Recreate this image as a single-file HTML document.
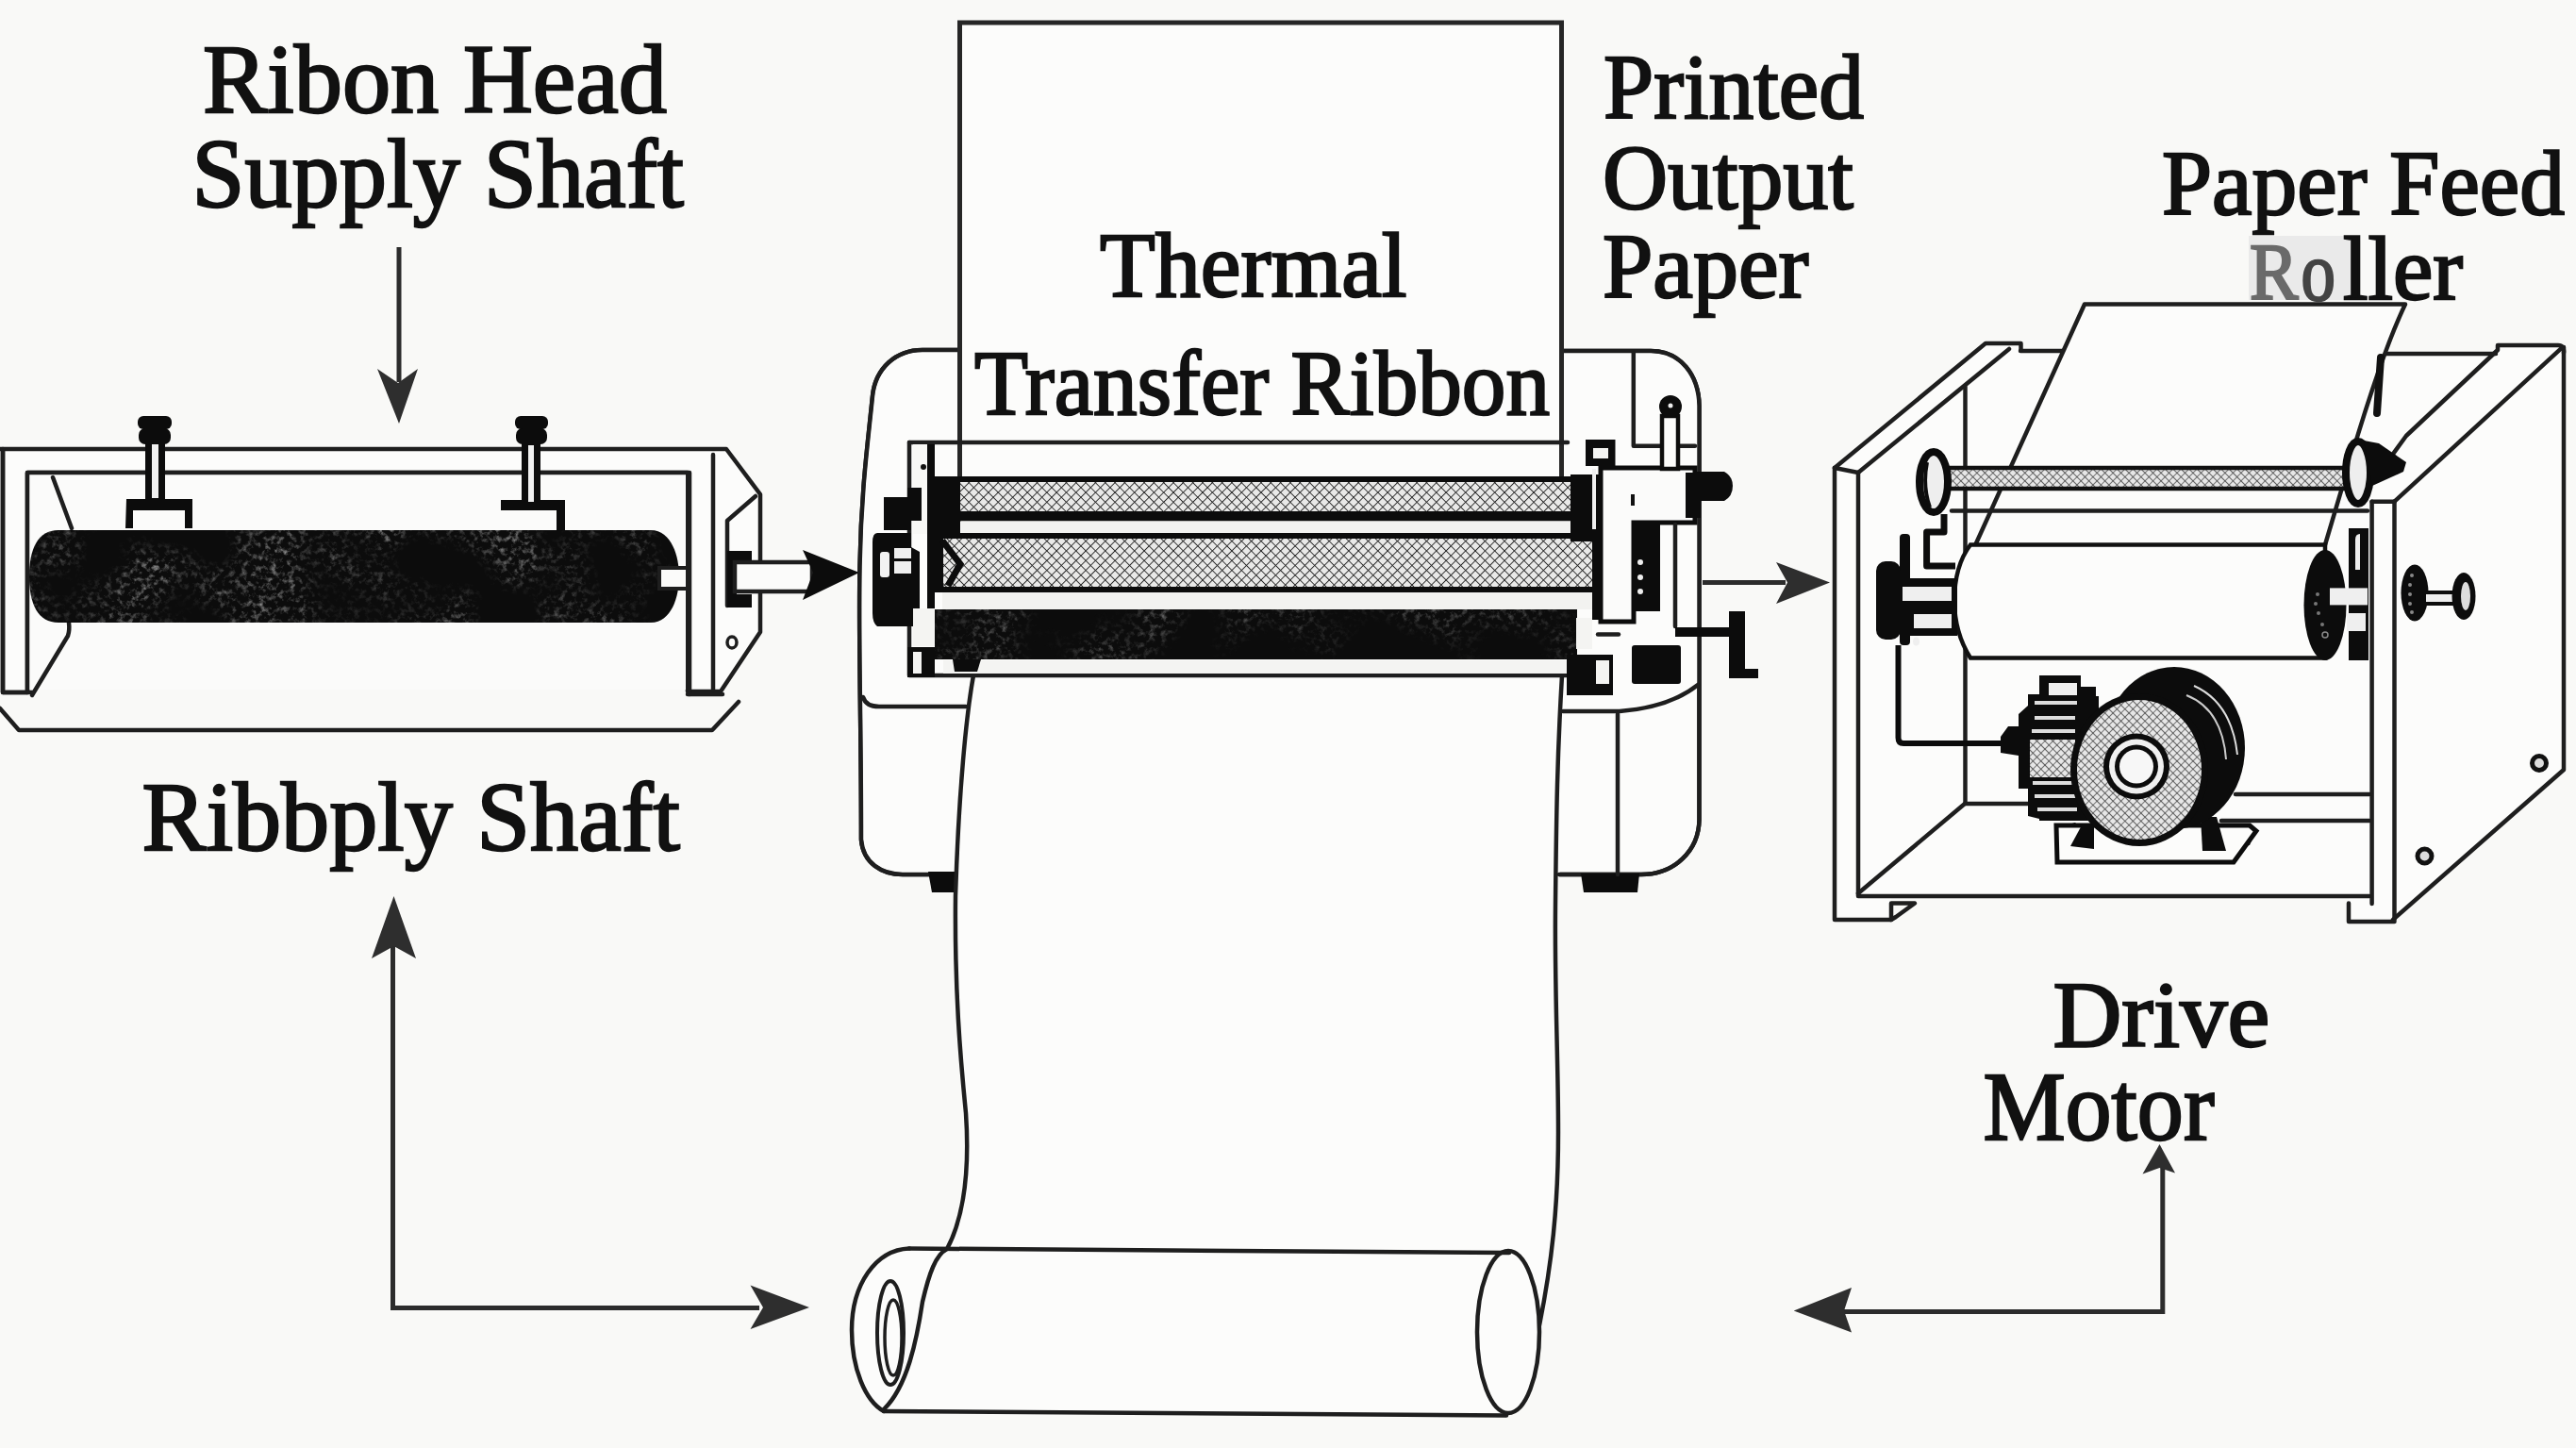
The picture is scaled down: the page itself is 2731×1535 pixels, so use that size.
<!DOCTYPE html>
<html><head><meta charset="utf-8"><title>Thermal Transfer Printer Diagram</title>
<style>
html,body{margin:0;padding:0;background:#f9f9f7;}
body{width:2731px;height:1535px;overflow:hidden;}
svg{display:block;}
.t{font-family:"Liberation Serif",serif;fill:#111;stroke:#111;stroke-width:2.4;stroke-linejoin:miter;stroke-miterlimit:3;}
.s{fill:none;stroke:#1e1e1e;stroke-width:4.5;stroke-linejoin:round;stroke-linecap:round;}
.sw{fill:#fcfcfb;stroke:#1e1e1e;stroke-width:4.5;stroke-linejoin:round;}
.k{fill:#0c0c0c;}
.ar{fill:none;stroke:#2c2c2c;stroke-width:5;}
.ah{fill:#2e2e2e;}
</style></head><body>
<svg width="2731" height="1535" viewBox="0 0 2731 1535">
<defs>
<pattern id="hx" width="7.3" height="7.3" patternUnits="userSpaceOnUse" patternTransform="rotate(45)">
<rect width="7.3" height="7.3" fill="#e9e9e8"/>
<path d="M0 0H7.3M0 0V7.3" stroke="#2a2a2a" stroke-width="1.9"/>
</pattern>
<pattern id="hx2" width="6" height="6" patternUnits="userSpaceOnUse" patternTransform="rotate(45)">
<rect width="6" height="6" fill="#e6e6e6"/>
<path d="M0 0H6M0 0V6" stroke="#333" stroke-width="1.3"/>
</pattern>
<filter id="speck" x="0" y="0" width="1" height="1">
<feTurbulence type="fractalNoise" baseFrequency="0.16" numOctaves="4" seed="7" result="t"/>
<feColorMatrix in="t" type="matrix" values="0 0 0 0 0.27  0 0 0 0 0.27  0 0 0 0 0.27  2.6 0 0 0 -1.25" result="m"/>
<feTurbulence type="fractalNoise" baseFrequency="0.012" numOctaves="2" seed="11" result="low"/>
<feColorMatrix in="low" type="matrix" values="0 0 0 0 0  0 0 0 0 0  0 0 0 0 0  3.2 0 0 0 -1.25" result="lowA"/>
<feComposite in="m" in2="lowA" operator="in" result="mm"/>
<feComposite in="mm" in2="SourceAlpha" operator="in"/>
</filter>
<radialGradient id="bg1" cx="0.5" cy="0.5" r="0.5"><stop offset="0" stop-color="#fdfdfc"/><stop offset="1" stop-color="#fdfdfc" stop-opacity="0"/></radialGradient>
</defs>

<!-- background -->
<rect width="2731" height="1535" fill="#f9f9f7"/>

<!-- ============ ARROWS ============ -->
<g id="arrows">
<path class="ar" d="M423 262V405"/>
<path class="ah" d="M423 449L400 391L422 406L443 391Z"/>
<path class="ar" d="M416.5 1000V1386.5H805"/>
<path class="ah" d="M417.5 950L394 1016L417.5 1003L441 1016Z"/>
<path class="ah" d="M858 1386L795.5 1362.5L809 1386L795.5 1409Z"/>
<path class="ar" d="M1805 617.5H1893"/>
<path class="ah" d="M1940 617.5L1883 596L1895 617.5L1883 640Z"/>
<path class="ar" d="M2292.8 1238V1390.6H1950"/>
<path class="ah" d="M2289.5 1213L2271.5 1244.5L2289.5 1238L2306 1243.5Z"/>
<path class="ah" d="M1901.7 1389.6L1963 1365L1955 1389.6L1963 1412.5Z"/>
</g>

<!-- ============ LEFT: ribbon supply shaft ============ -->
<g id="left">
<!-- base tray -->
<path class="s" d="M0 751L20 774H755L783 744"/>
<!-- frame outer contour -->
<path class="sw" d="M-5 476H770L806 524V670L764 733H729V501H29V734H3V476"/>
<!-- fill the inside white (between posts) -->
<path d="M31 503H727V731H31Z" fill="#fbfbfa"/>
<path class="s" d="M29 734V501H731V736"/>
<path class="s" d="M756 482V731"/>
<path class="s" d="M3 476V734H34"/>
<path class="s" d="M729 736H766"/>
<!-- side plate inner parallelogram -->
<path class="s" d="M771 642V552L801 526"/>
<!-- left diagonal supports -->
<path class="s" d="M56 506L76 560"/>
<path class="s" d="M73 660Q74 668 72 674L34 737"/>
<!-- roller -->
<path class="k" d="M62 562H690C712 562 720 590 720 611C720 632 712 660 690 660H62C40 660 31 640 31 611C31 582 40 562 62 562Z"/>
<path d="M62 562H690C712 562 720 590 720 611C720 632 712 660 690 660H62C40 660 31 640 31 611C31 582 40 562 62 562Z" fill="#000" filter="url(#speck)"/>
<!-- stub shaft -->
<rect x="699" y="602" width="30" height="22" fill="#fbfbfa" stroke="#1e1e1e" stroke-width="4"/>
<!-- arrow shaft bracket -->
<path class="k" d="M771 584H797V598H781V630H797V644H771Z"/>
<rect x="779" y="596" width="82" height="31" fill="#fbfbfa" stroke="#1e1e1e" stroke-width="4.5"/>
<path class="k" d="M911 607L851 583L862 607L851 636Z"/>
<!-- hole -->
<ellipse cx="776" cy="681" rx="5" ry="6" fill="none" stroke="#1e1e1e" stroke-width="3.5"/>
<!-- left screw -->
<path class="k" d="M134 529H204V560H196V541H141V560H133Z"/>
<rect x="154" y="468" width="21" height="64" fill="#0c0c0c"/>
<rect x="161" y="470" width="7" height="58" fill="#f0f0f0"/>
<rect x="146" y="441" width="36" height="14" rx="6" fill="#0c0c0c"/>
<rect x="147" y="454" width="34" height="17" rx="7" fill="#0c0c0c"/>
<!-- right screw -->
<path class="k" d="M531 530H599V562H590V541H541V541H531Z"/>
<rect x="553" y="470" width="20" height="66" fill="#0c0c0c"/>
<rect x="560" y="472" width="6" height="60" fill="#f0f0f0"/>
<rect x="546" y="441" width="35" height="14" rx="6" fill="#0c0c0c"/>
<rect x="547" y="454" width="33" height="17" rx="7" fill="#0c0c0c"/>
</g>

<!-- ============ CENTER: printer ============ -->
<g id="printer">
<!-- printer body -->
<path class="sw" d="M1016 371H978C950 371 928 390 925 420C920 470 913 520 911.5 600C910 680 913 760 913 890C915 915 935 927 957 927H1014
 M1655 372H1750C1782 372 1801 398 1801.5 430V869C1801 902 1775 927 1740 927H1653"/>
<path d="M1016 373H978C952 373 930 392 927 420C922 470 915 520 913.5 600C912 680 915 760 915 890C917 913 936 925 957 925H1654V754H1718L1800 726V430C1799 399 1781 374 1750 374H1016Z" fill="#fcfcfb"/>
<path class="s" d="M1016 371H978C950 371 928 390 925 420C920 470 913 520 911.5 600C910 680 913 760 913 890C915 915 935 927 957 927H1014"/>
<path class="s" d="M1655 372H1750C1782 372 1801 398 1801.5 430V869C1801 902 1775 927 1740 927H1653"/>
<!-- feet -->
<path class="k" d="M984 924H1013V946H988Z"/>
<path class="k" d="M1676 926H1738L1736 946H1679Z"/>
<!-- inner lines -->
<path class="s" d="M915 739Q918 749 932 749H1024"/>
<path class="s" d="M1657 754H1717Q1770 750 1800 726"/>
<path class="s" d="M1715 757V927"/>
<path class="s" d="M1731.8 374V472.8H1797"/>
<!-- paper strip from printer to roll -->
<path d="M1035 701C1024 750 1016 850 1013 950C1012 1050 1018 1120 1024 1180C1028 1240 1022 1290 1004 1324L1600 1330L1632 1405C1645 1340 1652 1280 1652 1200C1652 1120 1648 1050 1649 960C1650 860 1651 800 1656 716Z" fill="#fcfcfb"/>
<path class="s" d="M1035 701C1024 750 1016 850 1013 950C1012 1050 1018 1120 1024 1180C1028 1240 1022 1290 1004 1324"/>
<path class="s" d="M1656 716C1651 800 1650 860 1649 960C1648 1050 1652 1120 1652 1200C1652 1280 1645 1340 1632 1405"/>
<!-- top paper sheet -->
<rect x="1017.5" y="24" width="638" height="490" fill="#fcfcfb" stroke="#262626" stroke-width="5"/>
<!-- mechanism frame -->
<path class="s" d="M964 469H1662"/>
<path class="s" d="M964 469V716H1662"/>
<!-- upper roller -->
<rect x="1018" y="510" width="650" height="33" fill="url(#hx)"/>
<path d="M991 505H1670V511H1018V542H1670V552.5H991Z" fill="#0c0c0c"/>
<rect x="991" y="505" width="27" height="62" fill="#0c0c0c"/>
<rect x="1019" y="552.5" width="650" height="12.5" fill="#f2f2f0"/>
<rect x="991" y="565" width="680" height="6" fill="#0c0c0c"/>
<!-- middle roller -->
<rect x="1000" y="571" width="690" height="51" fill="url(#hx)"/>
<path d="M991 569H1000V625H991Z" fill="#0c0c0c"/><path d="M999 573L1018 598L1005 621" fill="none" stroke="#0c0c0c" stroke-width="7"/>
<rect x="991" y="622" width="699" height="6" fill="#0c0c0c"/>
<rect x="999" y="628" width="690" height="18" fill="#f2f2f0"/>
<!-- bottom black roller -->
<rect x="991" y="646" width="681" height="53" fill="#0c0c0c"/>
<rect x="991" y="646" width="681" height="53" fill="#000" filter="url(#speck)" opacity="0.6"/>
<rect x="1000" y="700" width="662" height="14" fill="#f4f4f2"/>
<!-- left frame strips -->
<rect x="983" y="471" width="8" height="175" fill="#0c0c0c"/>
<rect x="968" y="471" width="15" height="95" fill="#f8f8f6"/>
<circle cx="979" cy="495" r="3" fill="#111"/>
<!-- left mechanism -->
<path class="k" d="M937 527H962V517H977V552H966V562H937Z"/>
<path class="k" d="M930 565H966V580L975 585V645H991V664H930Q925 660 925 650V575Q925 565 930 565Z"/>
<rect x="933" y="585" width="10" height="27" rx="3" fill="#f2f2f2"/>
<rect x="948" y="581" width="18" height="11" fill="#efefef"/>
<rect x="948" y="595" width="18" height="13" fill="#efefef"/>
<rect x="968" y="645" width="23" height="40" fill="#f4f4f2"/>
<rect x="962" y="686" width="29" height="32" fill="#0c0c0c"/>
<rect x="968" y="691" width="9" height="23" fill="#f4f4f2"/>
<path class="k" d="M1010 699H1040L1036 712H1012Z"/>
<!-- right mechanism -->
<path class="k" d="M1681 466H1712.5V494H1681Z"/>
<rect x="1689" y="475" width="16" height="11" fill="#f4f4f2"/>
<path class="k" d="M1665 503H1698V574H1665Z"/>
<rect x="1688" y="497" width="4" height="64" fill="#f0f0f0"/>
<path class="k" d="M1688 572H1699V657H1688Z"/>
<rect x="1671" y="655" width="17" height="33" fill="#f4f4f2"/>
<path class="k" d="M1661 694H1710V737H1661Z"/>
<rect x="1692" y="700" width="14" height="25" fill="#f4f4f2"/>
<path d="M1697 496H1797V554H1732V659H1697Z" fill="#fbfbfa" stroke="#0c0c0c" stroke-width="5"/>
<rect x="1729" y="524" width="4" height="12" fill="#111"/>
<path class="k" d="M1732 552H1760V648H1732Z"/>
<circle cx="1739" cy="596" r="3" fill="#eee"/><circle cx="1739" cy="612" r="3" fill="#eee"/><circle cx="1739" cy="627" r="3" fill="#eee"/>
<path class="k" d="M1787 501H1803V549H1787Z"/>
<path class="k" d="M1797 500H1828Q1837 505 1837 515Q1837 526 1828 531H1797Z"/>
<!-- lever knob -->
<rect x="1762" y="441" width="17" height="56" fill="#fbfbfa" stroke="#0c0c0c" stroke-width="4.5"/>
<circle cx="1771" cy="431" r="12" fill="#0c0c0c"/>
<circle cx="1771" cy="430" r="2.5" fill="#eee"/>
<path class="s" d="M1776 556V664"/>
<!-- T handle -->
<path class="k" d="M1776 665H1833V648H1850V709H1864V719H1833V675H1776Z"/>
<rect x="1730" y="684" width="52" height="41" rx="3" fill="#0c0c0c"/>
<path class="s" d="M1694 672.5H1716"/>
<!-- roll -->
<path d="M964 1323.5L1600 1328C1620 1330 1632 1370 1631 1412C1630 1460 1615 1500 1597 1500.5L937 1496C915 1480 903 1445 903 1410C903 1365 930 1323.5 964 1323.5Z" fill="#fcfcfb"/>
<path class="s" d="M964 1323.5L1600 1328"/>
<path class="s" d="M937 1496L1597 1500.5"/>
<path class="s" d="M964 1323.5C928 1325 903 1362 903 1410C903 1450 917 1485 937 1496"/>
<path class="s" d="M1004 1324C992 1330 985 1350 978 1380C972 1420 962 1470 937 1494"/>
<ellipse cx="1599" cy="1412" rx="33" ry="86" fill="none" stroke="#1e1e1e" stroke-width="4.5"/>
<ellipse cx="944" cy="1413" rx="14" ry="55" fill="none" stroke="#1e1e1e" stroke-width="4"/>
<ellipse cx="947" cy="1418" rx="9" ry="40" fill="none" stroke="#1e1e1e" stroke-width="3.5"/>
</g>

<!-- ============ RIGHT: paper feed box ============ -->
<g id="box">
<!-- interior background fills -->
<path d="M1945 496L2105 364H2142V372H2648V366H2718V816L2537 975H2490V952H2005V975H1945Z" fill="#fcfcfb"/>
<!-- right side face -->
<path class="s" d="M2538.5 531.7L2715 369.7"/>
<path class="s" d="M2718 368V816L2537 975"/>
<!-- right top slab -->
<path class="s" d="M2514.6 512L2551 462L2648 371V366H2712Q2719 366 2718 374"/>
<path class="s" d="M2514.6 531.7H2538.5"/>
<!-- back panel top line -->
<path class="s" d="M2142 372H2190M2529 375H2646"/>
<!-- left panel -->
<path class="s" d="M1945 496V975H2005"/>
<path class="s" d="M1970 501V950H2512"/>
<path class="s" d="M1945 496L1970 501"/>
<path class="s" d="M1945 496L2105 364H2142.5V371"/>
<path class="s" d="M1970 501L2130 370"/>
<path class="s" d="M2005 975L2010 972L2030 957.5H2005V975"/>
<!-- back left vertical and floor -->
<path class="s" d="M2083.5 410V852"/>
<path class="s" d="M1970 947L2083 852H2160"/>
<path class="s" d="M2370 842H2512M2355 870H2512"/>
<!-- right panel front -->
<path class="s" d="M2514.6 531.7V958M2538.5 531.7V975"/>
<path class="s" d="M2490 957.5V977H2538.5"/>
<!-- holes -->
<circle cx="2692" cy="809" r="7.5" fill="#ddd" stroke="#111" stroke-width="5"/>
<circle cx="2570.5" cy="907.5" r="7.5" fill="#ddd" stroke="#111" stroke-width="5"/>
<!-- side knob -->
<ellipse cx="2560" cy="628.5" rx="14.5" ry="30" fill="#0c0c0c"/>
<rect x="2570" y="628" width="32" height="12" fill="#eee" stroke="#0c0c0c" stroke-width="4"/>
<ellipse cx="2612" cy="632" rx="12.5" ry="25" fill="#0c0c0c"/>
<ellipse cx="2614" cy="632" rx="5" ry="15" fill="#ddd"/>
<g fill="#888"><circle cx="2557" cy="610" r="2"/><circle cx="2555" cy="620" r="2"/><circle cx="2555" cy="630" r="2"/><circle cx="2555" cy="640" r="2"/><circle cx="2557" cy="649" r="2"/></g>
<!-- paper in box -->
<path d="M2210 322.5H2550C2530 360 2510 420 2490 490L2465 577.5H2095Z" fill="#fcfcfb"/>
<path class="s" d="M2095 576L2210 322.5H2550C2532 360 2512 420 2494 480L2465 577.5"/>
<path d="M2524 379L2520 438" stroke="#111" stroke-width="8" stroke-linecap="round"/>
<!-- under-rod bar and roller -->
<path class="s" d="M2069 541.5H2510"/>
<path d="M2089 577.5H2465V697.5H2089C2078 680 2072 660 2072 637C2072 612 2078 592 2089 577.5Z" fill="#fcfcfb" stroke="#111" stroke-width="4.5"/>
<!-- rod -->
<rect x="2055" y="496" width="436" height="22" fill="url(#hx2)" stroke="#111" stroke-width="4.5"/>
<!-- rod discs -->
<ellipse cx="2050" cy="511" rx="15" ry="32" fill="#eee" stroke="#0c0c0c" stroke-width="8"/>
<path d="M2043 490Q2038 515 2046 538" stroke="#0c0c0c" stroke-width="4" fill="none"/>
<ellipse cx="2500" cy="501" rx="13" ry="33" fill="#eee" stroke="#0c0c0c" stroke-width="8"/>
<path class="k" d="M2506 467L2522 470L2551 490L2548 500L2515 515Z"/>
<!-- left s-hook -->
<path d="M2061 545V564H2042.6V600H2073" fill="none" stroke="#0c0c0c" stroke-width="7" stroke-linejoin="round"/>
<!-- left axle bracket -->
<rect x="2014" y="566" width="11" height="118" rx="4" fill="#0c0c0c"/>
<rect x="1989" y="595" width="26" height="83" rx="10" fill="#0c0c0c"/>
<rect x="2014" y="613" width="61" height="61" fill="#0c0c0c"/>
<rect x="2017" y="622" width="52" height="15" fill="#efefef"/>
<rect x="2029" y="651" width="40" height="15" fill="#efefef"/>
<ellipse cx="2031.5" cy="680" rx="3.5" ry="4.5" fill="#efefef"/>
<!-- right gear & bracket -->
<path class="k" d="M2490 560H2511V700H2490Z"/>
<path d="M2497 572Q2497 566 2502 566V604H2497Z" fill="#eee"/>
<ellipse cx="2465" cy="641.4" rx="22.5" ry="58.5" fill="#0c0c0c"/>
<g fill="#777"><circle cx="2457" cy="630" r="2"/><circle cx="2455" cy="640" r="2"/><circle cx="2458" cy="650" r="2"/><circle cx="2462" cy="662" r="2"/><circle cx="2465" cy="673" r="3" fill="none" stroke="#888" stroke-width="1.5"/></g>
<rect x="2470" y="623.4" width="40" height="18" fill="#efefef"/>
<rect x="2488" y="650" width="20" height="19" fill="#efefef"/>
<!-- wire -->
<path d="M2012.5 684V782Q2012.5 788 2018 788H2123" fill="none" stroke="#0c0c0c" stroke-width="6"/>
<!-- motor base -->
<path d="M2183 877L2200 872L2208 880V905L2270 906L2385 896L2391 881L2385 880L2372 873L2368 880L2340 878L2340 902L2266 904L2181 903Z" fill="#0c0c0c"/>
<path d="M2180 875H2385L2392 881L2368 914H2181Z" fill="#fcfcfb" stroke="#0c0c0c" stroke-width="5"/>
<path class="k" d="M2195 897L2208 873H2220V900Z"/>
<path class="k" d="M2333 866H2350L2360 902H2335Z"/>
<!-- motor back disc -->
<ellipse cx="2305" cy="793" rx="75" ry="86" fill="#0c0c0c"/>
<path d="M2326 727Q2366 745 2372 800" stroke="#ddd" stroke-width="2" fill="none"/>
<path d="M2318 737Q2356 752 2360 805" stroke="#ccc" stroke-width="2" fill="none"/>
<!-- gear housing -->
<path class="k" d="M2162 716H2206V728H2222V738H2225V870H2162V868L2150 865V836H2140V801L2121 798V781L2129 770H2140V757L2150 748V736H2162Z"/>
<rect x="2172" y="724" width="30" height="13" fill="#efefef"/>
<rect x="2152" y="784" width="48" height="40" fill="url(#hx2)"/>
<g fill="#ddd"><rect x="2157" y="743" width="45" height="4"/><rect x="2157" y="759" width="43" height="4"/><rect x="2154" y="773" width="46" height="4"/><rect x="2155" y="828" width="45" height="4"/><rect x="2157" y="842" width="44" height="4"/><rect x="2160" y="856" width="42" height="4"/></g>
<!-- motor front face -->
<ellipse cx="2268" cy="816" rx="73" ry="81" fill="#0c0c0c"/>
<ellipse cx="2268" cy="816" rx="66" ry="74" fill="url(#hx2)"/>
<circle cx="2265" cy="812.5" r="35" fill="#0c0c0c"/>
<circle cx="2265" cy="812.5" r="29" fill="#f0f0f0"/>
<circle cx="2265" cy="812.5" r="23" fill="#0c0c0c"/>
<circle cx="2265" cy="812.5" r="18" fill="#f7f7f7"/>
</g>

<!-- ============ LABELS ============ -->
<g id="labels">
<text class="t" transform="translate(215.0 119) scale(0.9941 1)" font-size="103">Ribon Head</text>
<text class="t" transform="translate(203.6 219) scale(0.9744 1)" font-size="103">Supply Shaft</text>
<text class="t" transform="translate(1166.0 314) scale(0.9907 1)" font-size="97">Thermal</text>
<text class="t" transform="translate(1033.0 438.5) scale(0.9607 1)" font-size="97">Transfer Ribbon</text>
<text class="t" transform="translate(1700.0 124.5) scale(0.9849 1)" font-size="97">Printed</text>
<text class="t" transform="translate(1699.0 221) scale(0.9871 1)" font-size="97">Output</text>
<text class="t" transform="translate(1699.0 315) scale(0.9893 1)" font-size="97">Paper</text>
<text class="t" transform="translate(2292.0 227) scale(0.9795 1)" font-size="97.5">Paper Feed</text>
<rect x="2384" y="250" width="113" height="68" fill="#eaeaea"/>
<text class="t" transform="translate(2385.1 317.2) scale(0.9084 1)" font-size="85" style="fill:#6a6a6a;stroke:#6a6a6a">R</text>
<text class="t" transform="translate(2439.6 317.5) scale(0.8273 1)" font-size="88" style="fill:#444;stroke:#444">o</text>
<text class="t" transform="translate(2484.0 317.4) scale(0.9940 1)" font-size="96" fill="#111" stroke="#111">ller</text>
<text class="t" transform="translate(150.5 901) scale(0.9919 1)" font-size="103">Ribbply Shaft</text>
<text class="t" transform="translate(2176.4 1109) scale(1.0097 1)" font-size="100">Drive</text>
<text class="t" transform="translate(2102.4 1207.7) scale(0.9522 1)" font-size="103">Motor</text>
</g>

</svg>
</body></html>
